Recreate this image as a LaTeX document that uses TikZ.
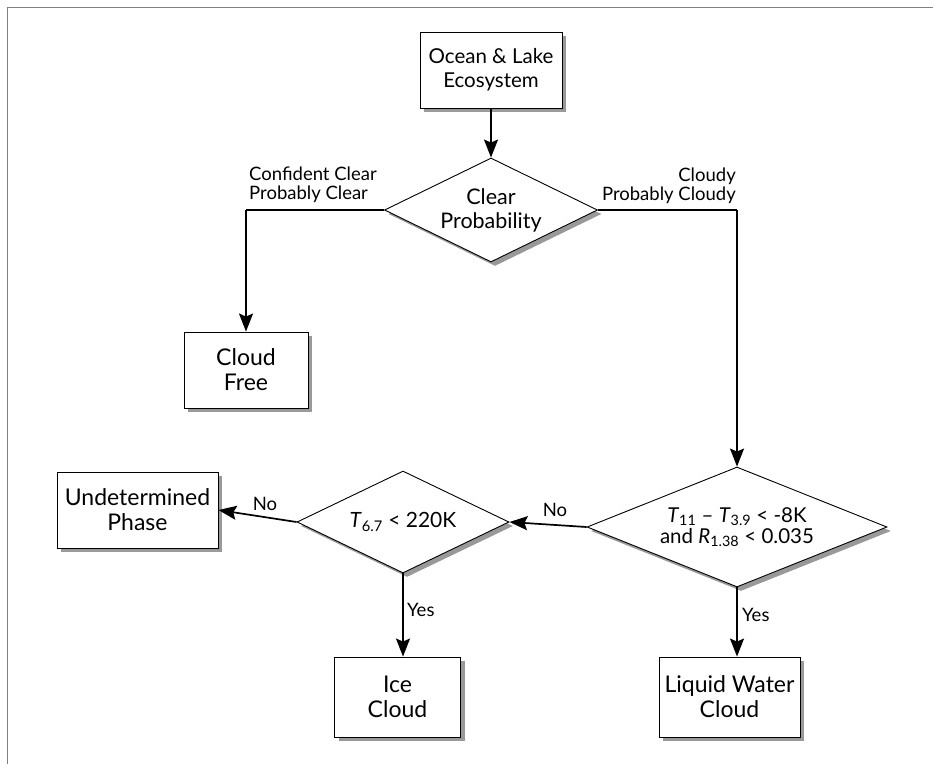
\documentclass[tikz,border=0pt]{standalone}
\usepackage{fontspec}
\setmainfont{Lato}
\usetikzlibrary{shapes.geometric,shadows,arrows.meta}
\begin{document}
\begin{tikzpicture}[x=1pt,y=-1pt,
  shadowed/.style={drop shadow={shadow xshift=4pt,shadow yshift=-4pt,fill=black!40,opacity=1}},
  boxnode/.style={rectangle,draw=black,line width=0.9pt,fill=white,inner sep=0pt,align=center,
    font=\fontsize{23}{25}\selectfont,shadowed},
  decision/.style={diamond,draw=black,line width=0.9pt,fill=white,inner sep=0pt,align=center,
    shadowed},
  conn/.style={line width=1.7pt,-{Stealth[length=18pt,width=14pt,inset=3pt]}},
  plainline/.style={line width=1.7pt},
  lbl/.style={font=\fontsize{18.5}{19}\selectfont,inner sep=0pt}
]
\useasboundingbox (0,0) rectangle (933,764);
\draw[color=black!50,line width=1.6pt] (7.5,764) -- (7.5,7.5) -- (933,7.5);

\node[boxnode,minimum width=142pt,minimum height=76pt,font=\fontsize{20.5}{24}\selectfont] (ocean) at (491,70) {Ocean \& Lake\\Ecosystem};
\node[decision,aspect=2,minimum width=213pt,minimum height=104pt,font=\fontsize{21.5}{24}\selectfont] (clear) at (491,210) {Clear\\Probability};
\node[boxnode,minimum width=124pt,minimum height=76pt] (free) at (246,370) {Cloud\\Free};
\node[decision,aspect=2.5,minimum width=300pt,minimum height=120pt,font=\fontsize{20.5}{21}\selectfont] (test) at (737,527)
  {\textit{T}\textsubscript{11} – \textit{T}\textsubscript{3.9} < -8K\\and \textit{R}\textsubscript{1.38} < 0.035};
\node[decision,aspect=2,minimum width=212pt,minimum height=102pt,font=\fontsize{21}{23}\selectfont] (wv) at (403,522)
  {\textit{T}\textsubscript{6.7} < 220K};
\node[boxnode,minimum width=161pt,minimum height=76pt] (undet) at (137.5,510) {Undetermined\\Phase};
\node[boxnode,minimum width=126pt,minimum height=80pt] (ice) at (397.5,697) {Ice\\Cloud};
\node[boxnode,minimum width=141pt,minimum height=80pt] (liquid) at (729.5,697) {Liquid Water\\Cloud};

\coordinate (lturn) at (246,210);
\coordinate (rturn) at (737,210);

\draw[conn] (ocean.south) -- (clear.north);
\draw[plainline] (clear.west) -- (lturn);
\draw[conn] (lturn) -- (free.north);
\draw[plainline] (clear.east) -- (rturn);
\draw[conn] (rturn) -- (test.north);
\draw[conn] (test.west) -- (wv.east);
\draw[conn] (wv.west) -- (undet.east);
\draw[conn] (wv.south) -- (wv.south |- ice.north);
\draw[conn] (test.south) -- (test.south |- liquid.north);

\node[lbl,anchor=south west,align=left] (lblclear) at (249,203) {Confident Clear\\Probably Clear};
\node[lbl,anchor=south east,align=right] (lblcloudy) at (736,204) {Cloudy\\Probably Cloudy};
\node[lbl] (no1) at (555,510) {No};
\node[lbl] (no2) at (265,504) {No};
\node[lbl,anchor=west] (yes1) at (407,610) {Yes};
\node[lbl,anchor=west] (yes2) at (742,615) {Yes};
\end{tikzpicture}
\end{document}
